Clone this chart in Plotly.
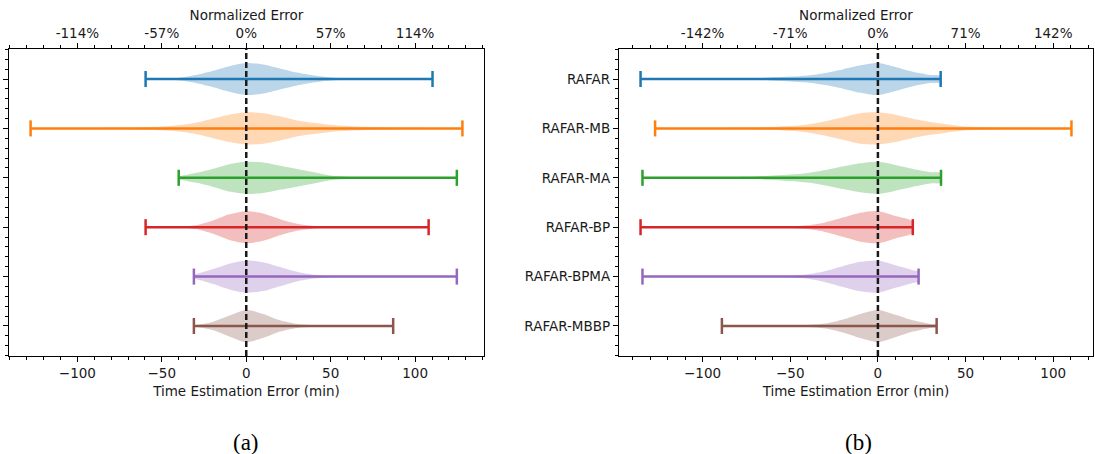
import plotly.graph_objects as go

# ---- data -------------------------------------------------------------
METHODS = ["RAFAR", "RAFAR-MB", "RAFAR-MA", "RAFAR-BP", "RAFAR-BPMA", "RAFAR-MBBP"]
COLORS = ["#1f77b4", "#ff7f0e", "#2ca02c", "#d62728", "#9467bd", "#8c564b"]
FILLS = ["rgba(31,119,180,0.3)", "rgba(255,127,14,0.3)", "rgba(44,160,44,0.3)",
         "rgba(214,39,40,0.3)", "rgba(148,103,189,0.3)", "rgba(140,86,75,0.3)"]

# (a) extremes of the time estimation error (min)
MIN_A = [-59.6, -127.7, -40.0, -59.6, -31.0, -31.0]
MAX_A = [110.3, 128.0, 124.7, 108.0, 124.7, 87.0]
# (b) extremes of the time estimation error (min)
MIN_B = [-135.4, -127.1, -134.3, -135.4, -134.3, -89.0]
MAX_B = [35.8, 110.4, 36.0, 19.9, 23.2, 33.5]

# relative density profile (1 = widest point) sampled on a common grid
GRID = [-130, -110, -90, -70, -50, -40, -30, -20, -10, 0, 10, 20, 30, 40, 50, 60, 70, 90, 110, 130]
N = None
DENS_A = [
    [N, N, N, N, 0.03, 0.08, 0.25, 0.5, 0.8, 1.0, 0.9, 0.65, 0.4, 0.22, 0.1, 0.05, 0.03, 0.015, 0.01, N],
    [N, 0.01, 0.02, 0.05, 0.12, 0.2, 0.35, 0.6, 0.85, 1.0, 0.95, 0.75, 0.5, 0.35, 0.22, 0.15, 0.1, 0.05, 0.02, N],
    [N, N, N, N, N, 0.1, 0.3, 0.55, 0.85, 1.0, 0.95, 0.75, 0.55, 0.35, 0.15, 0.07, 0.04, 0.02, 0.01, N],
    [N, N, N, N, 0.02, 0.04, 0.12, 0.4, 0.8, 1.0, 0.85, 0.5, 0.22, 0.08, 0.03, 0.02, 0.01, 0.01, N, N],
    [N, N, N, N, N, N, 0.15, 0.45, 0.8, 1.0, 0.9, 0.6, 0.3, 0.12, 0.05, 0.03, 0.02, 0.01, 0.01, N],
    [N, N, N, N, N, N, 0.05, 0.25, 0.65, 1.0, 0.75, 0.35, 0.12, 0.04, 0.02, 0.01, 0.01, N, N, N],
]
EDGE_LO_A = [0.01, 0.005, 0.1, 0.01, 0.15, 0.03]
EDGE_HI_A = [0.01, 0.005, 0.01, 0.01, 0.01, 0.01]

DENS_B = [
    [0.005, 0.01, 0.02, 0.05, 0.15, 0.22, 0.38, 0.6, 0.85, 1.0, 0.75, 0.45, 0.25, N, N, N, N, N, N, N],
    [N, 0.01, 0.02, 0.05, 0.15, 0.25, 0.45, 0.7, 0.95, 1.0, 0.85, 0.6, 0.4, 0.25, 0.12, 0.08, 0.05, 0.03, 0.01, N],
    [0.005, 0.01, 0.03, 0.08, 0.2, 0.3, 0.48, 0.7, 0.9, 1.0, 0.8, 0.55, 0.35, N, N, N, N, N, N, N],
    [0.005, 0.01, 0.01, 0.02, 0.05, 0.12, 0.3, 0.6, 0.9, 1.0, 0.7, N, N, N, N, N, N, N, N, N],
    [0.005, 0.01, 0.01, 0.02, 0.06, 0.14, 0.35, 0.65, 0.92, 1.0, 0.7, 0.4, N, N, N, N, N, N, N, N],
    [N, N, N, 0.01, 0.03, 0.06, 0.15, 0.4, 0.75, 1.0, 0.7, 0.35, 0.12, N, N, N, N, N, N, N],
]
EDGE_LO_B = [0.005, 0.005, 0.005, 0.005, 0.005, 0.005]
EDGE_HI_B = [0.2, 0.01, 0.3, 0.35, 0.3, 0.08]

# top-axis labels: the same minute ticks expressed as normalized error
MINUTE_TICKS = [-100, -50, 0, 50, 100]
NORM_LABELS_A = ["-114%", "-57%", "0%", "57%", "114%"]
NORM_LABELS_B = ["-142%", "-71%", "0%", "71%", "142%"]

# ---- styling ----------------------------------------------------------
POSITIONS = list(range(1, len(METHODS) + 1))
VIOLIN_WIDTH = 0.65
FONT = "DejaVu Sans"
TXT = "#1a1a1a"
TICK_SIZE = 13.5

fig = go.Figure()


def add_panel(xa, ya, mins, maxs, dens, edge_lo, edge_hi):
    for i, pos in enumerate(POSITIONS):
        lo, hi = mins[i], maxs[i]
        xs = [lo]
        ws = [edge_lo[i]]
        for g, w in zip(GRID, dens[i]):
            if w is not None and lo < g < hi:
                xs.append(g)
                ws.append(w)
        xs.append(hi)
        ws.append(edge_hi[i])
        half = [VIOLIN_WIDTH / 2 * w for w in ws]
        px = xs + xs[::-1]
        py = [pos - h for h in half] + [pos + h for h in half[::-1]]
        fig.add_trace(go.Scatter(
            x=px, y=py, xaxis=xa, yaxis=ya, mode="lines", fill="toself",
            fillcolor=FILLS[i], line=dict(width=0, shape="spline", smoothing=0.8),
            hoverinfo="skip", showlegend=False))
    cap = VIOLIN_WIDTH / 4
    for i, pos in enumerate(POSITIONS):
        lo, hi = mins[i], maxs[i]
        fig.add_trace(go.Scatter(
            x=[lo, hi, None, lo, lo, None, hi, hi],
            y=[pos, pos, None, pos - cap, pos + cap, None, pos - cap, pos + cap],
            xaxis=xa, yaxis=ya, mode="lines",
            line=dict(color=COLORS[i], width=2.5),
            hoverinfo="skip", showlegend=False))


add_panel("x", "y", MIN_A, MAX_A, DENS_A, EDGE_LO_A, EDGE_HI_A)
add_panel("x2", "y2", MIN_B, MAX_B, DENS_B, EDGE_LO_B, EDGE_HI_B)

# empty traces so the top (normalized) axes get their own subplots
fig.add_trace(go.Scatter(x=[None], y=[None], xaxis="x3", yaxis="y", showlegend=False, hoverinfo="skip"))
fig.add_trace(go.Scatter(x=[None], y=[None], xaxis="x4", yaxis="y2", showlegend=False, hoverinfo="skip"))


def padded(lo, hi, frac=0.05):
    span = hi - lo
    return [lo - frac * span, hi + frac * span]


xr_a = padded(min(MIN_A), max(MAX_A))
xr_b = padded(min(MIN_B), max(MAX_B))
yr = padded(POSITIONS[0] - VIOLIN_WIDTH / 2, POSITIONS[-1] + VIOLIN_WIDTH / 2)
yr = [yr[1], yr[0]]

H, W = 454, 1095
dom_a = [9 / W, 484 / W]
dom_b = [619 / W, 1093 / W]
dom_y = [1 - 356 / H, 1 - 49 / H]

tickfont = dict(family=FONT, size=TICK_SIZE, color=TXT)
common_x = dict(
    showline=True, linecolor="black", linewidth=1.2, mirror=False,
    ticks="outside", ticklen=5, tickwidth=1, tickcolor="black",
    showgrid=False, zeroline=False, tickfont=tickfont,
    minor=dict(dtick=10, tick0=0, ticks="outside", ticklen=3, tickwidth=1, tickcolor="black"),
)
common_y = dict(
    showline=True, linecolor="black", linewidth=1.2, mirror=True,
    ticks="outside", ticklen=5, tickwidth=1, tickcolor="black",
    showgrid=False, zeroline=False, tickfont=tickfont,
    tickvals=POSITIONS, range=yr, domain=dom_y,
    minor=dict(dtick=0.2, tick0=0, ticks="outside", ticklen=3, tickwidth=1, tickcolor="black"),
)
xtitle = dict(text="Time Estimation Error (min)", font=dict(family=FONT, size=TICK_SIZE, color=TXT), standoff=6)
ttitle = dict(text="Normalized Error", font=dict(family=FONT, size=TICK_SIZE, color=TXT), standoff=0)

fig.update_layout(
    width=W, height=H, margin=dict(l=0, r=0, t=0, b=0),
    paper_bgcolor="white", plot_bgcolor="white", showlegend=False,
    xaxis=dict(**common_x, domain=dom_a, anchor="y", range=xr_a, tickvals=MINUTE_TICKS, title=xtitle),
    xaxis2=dict(**common_x, domain=dom_b, anchor="y2", range=xr_b, tickvals=MINUTE_TICKS, title=xtitle),
    xaxis3=dict(**common_x, overlaying="x", side="top", anchor="y", range=xr_a,
                tickvals=MINUTE_TICKS, ticktext=NORM_LABELS_A, title=ttitle),
    xaxis4=dict(**common_x, overlaying="x2", side="top", anchor="y2", range=xr_b,
                tickvals=MINUTE_TICKS, ticktext=NORM_LABELS_B, title=ttitle),
    yaxis=dict(**common_y, anchor="x", showticklabels=False),
    yaxis2=dict(**common_y, anchor="x2", ticktext=METHODS),
)

# dashed reference line at zero error
for xref, yref in (("x", "y domain"), ("x2", "y2 domain")):
    fig.add_shape(type="line", xref=xref, yref=yref, x0=0, x1=0, y0=0, y1=1,
                  line=dict(color="#1a1a1a", width=2.5, dash="6px,3px"), layer="above")

# sub-figure captions
for label, xc in (("(a)", 246), ("(b)", 858)):
    fig.add_annotation(text=label, xref="paper", yref="paper", x=xc / W, y=1 - 442 / H,
                       xanchor="center", yanchor="middle", showarrow=False,
                       font=dict(family="Liberation Serif", size=23, color="black"))

fig.write_html("out.html")
